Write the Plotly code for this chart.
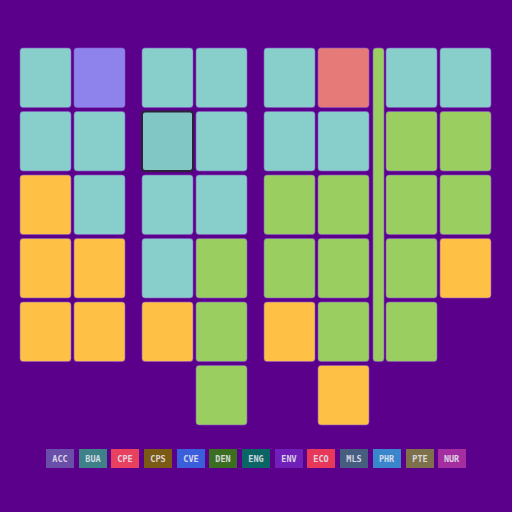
import plotly.graph_objects as go

# ---- data ----
seat_block = [0,0,0,0,0, 0,0,0,0,0,
              1,1,1,1,1, 1,1,1,1,1,1,
              2,2,2,2,2, 2,2,2,2,2,2,
              3,3,3,3,3, 3,3,3,3]
seat_col   = [0,0,0,0,0, 1,1,1,1,1,
              0,0,0,0,0, 1,1,1,1,1,1,
              0,0,0,0,0, 1,1,1,1,1,1,
              0,0,0,0,0, 1,1,1,1]
seat_row   = [0,1,2,3,4, 0,1,2,3,4,
              0,1,2,3,4, 0,1,2,3,4,5,
              0,1,2,3,4, 0,1,2,3,4,5,
              0,1,2,3,4, 0,1,2,3]
seat_status = ["T","T","O","O","O", "P","T","T","O","O",
               "T","S","T","T","O", "T","T","T","G","G","G",
               "T","T","G","G","O", "R","T","G","G","G","O",
               "T","G","G","G","G", "T","G","G","O"]

aisle_block = [2]
aisle_row_start = [0]
aisle_row_end = [4]
aisle_status = ["G"]

status_colors = {"T": "#88CFCB", "S": "#80C7C6", "P": "#8E82EC",
                 "O": "#FFC145", "G": "#9BCE60", "R": "#E57A78"}

legend_codes = ["ACC","BUA","CPE","CPS","CVE","DEN","ENG","ENV","ECO","MLS","PHR","PTE","NUR"]
legend_colors = ["#6A4FA8","#3E8189","#E8415F","#7A5A14","#3B5FDB","#3C6E22","#0B6565",
                 "#7020B8","#E8385A","#475D80","#3A86CC","#7D704A","#A42DA0"]

# ---- layout constants ----
BG = "#5A008A"
X0, BLOCK_PITCH, COL_PITCH, CELL_W = 20, 122, 54, 51
Y0, ROW_PITCH, CELL_H = 48, 63.5, 59.5
AISLE_OFF, AISLE_W = 109, 11

fig = go.Figure()

for st, col in status_colors.items():
    xs, ws, bs, hs = [], [], [], []
    for b, c, r, s in zip(seat_block, seat_col, seat_row, seat_status):
        if s != st:
            continue
        left = X0 + BLOCK_PITCH * b + COL_PITCH * c
        xs.append(left + CELL_W / 2)
        ws.append(CELL_W)
        bs.append(Y0 + ROW_PITCH * r)
        hs.append(CELL_H)
    for b, r0, r1, s in zip(aisle_block, aisle_row_start, aisle_row_end, aisle_status):
        if s != st:
            continue
        left = X0 + BLOCK_PITCH * b + AISLE_OFF
        xs.append(left + AISLE_W / 2)
        ws.append(AISLE_W)
        bs.append(Y0 + ROW_PITCH * r0)
        hs.append(ROW_PITCH * (r1 - r0) + CELL_H)
    if not xs:
        continue
    is_sel = st == "S"
    fig.add_trace(go.Bar(
        x=xs, y=hs, base=bs, width=ws,
        marker=dict(color=col, cornerradius=3,
                    line=dict(color="#2A2238" if is_sel else "rgba(140,90,200,0.6)",
                              width=2 if is_sel else 1)),
        showlegend=False, hoverinfo="skip"))

annotations = []
n = len(legend_codes)
LEG_W, LEG_GAP = 28, 4.7
total = n * LEG_W + (n - 1) * LEG_GAP
start = 256 - total / 2
for i, (code, c) in enumerate(zip(legend_codes, legend_colors)):
    annotations.append(dict(
        x=start + i * (LEG_W + LEG_GAP) + LEG_W / 2, y=458.5, xref="x", yref="y",
        text="<b>" + code + "</b>", showarrow=False,
        font=dict(family="DejaVu Sans Mono", size=8.5, color="rgba(230,230,240,0.9)"),
        bgcolor=c, bordercolor=c, borderpad=1, width=24, height=15,
        xanchor="center", yanchor="middle"))

fig.update_layout(
    width=512, height=512, margin=dict(l=0, r=0, t=0, b=0),
    paper_bgcolor=BG, plot_bgcolor=BG, barmode="overlay",
    xaxis=dict(range=[0, 512], visible=False, fixedrange=True),
    yaxis=dict(range=[512, 0], visible=False, fixedrange=True),
    annotations=annotations, showlegend=False)

fig.write_html("out.html")
